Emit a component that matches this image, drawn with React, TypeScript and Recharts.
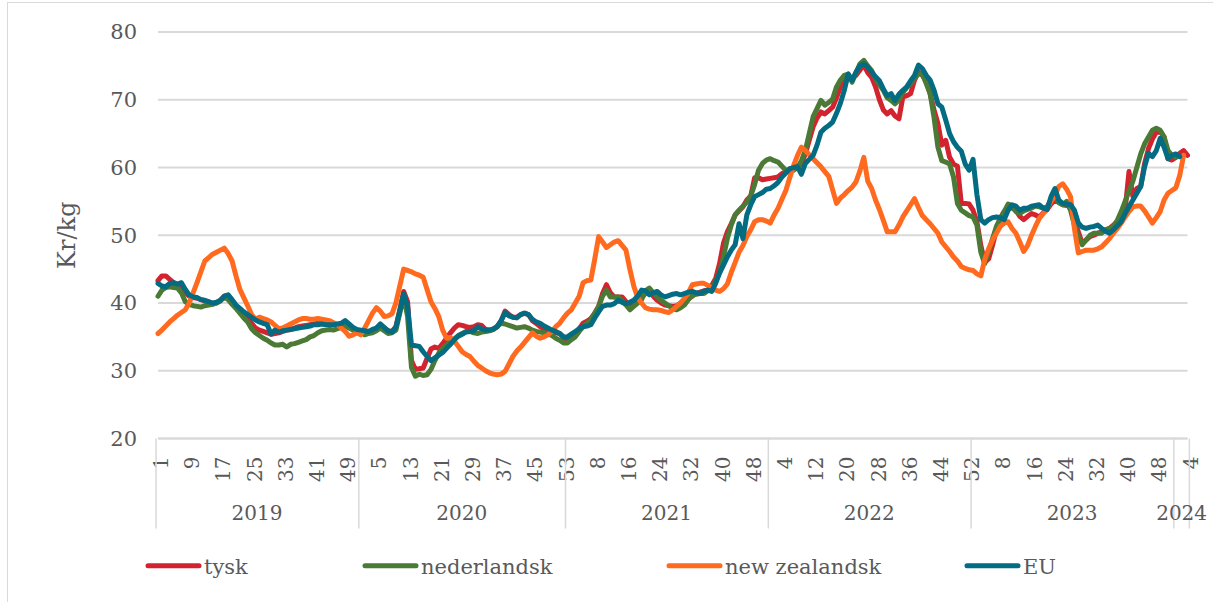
import { CartesianGrid, Line, LineChart, XAxis, YAxis } from 'recharts'

// week axis: 2019 w1 .. 2024 w4
const years = ['2019', '2020', '2021', '2022', '2023', '2024']
const weeksPerYear = [52, 53, 52, 52, 52, 4]
const yTicks = [20, 30, 40, 50, 60, 70, 80]

// Kr/kg, one value per week
const tysk = [
  // 2019
  43.3, 44.0, 44.0, 43.5, 43.0, 42.7, 42.5, 41.5, 41.0, 40.8, 40.7, 40.5, 40.3, 40.1, 39.9, 40.0, 40.4, 41.0, 41.1, 40.3,
  39.5, 39.0, 38.4, 37.8, 37.0, 36.3, 36.0, 35.8, 35.6, 35.4, 35.5, 35.6, 35.8, 36.0, 36.1, 36.3, 36.5, 36.6, 36.7, 36.8,
  36.9, 37.0, 37.0, 36.9, 36.8, 36.8, 36.8, 36.9, 37.2, 36.8, 36.3, 36.0,
  // 2020
  35.9, 35.8, 35.7, 36.0, 36.2, 36.7, 36.3, 35.9, 35.8, 36.5, 39.0, 41.7, 40.2, 31.5, 30.2, 30.3, 30.4, 31.8, 33.2, 33.5,
  33.3, 34.0, 34.8, 35.6, 36.3, 36.8, 36.7, 36.5, 36.4, 36.5, 36.8, 36.7, 36.1, 36.0, 36.1, 36.5, 37.4, 38.8, 38.3, 37.9,
  37.9, 38.3, 38.5, 38.3, 37.4, 37.0, 36.5, 36.2, 35.9, 35.8, 35.6, 35.5, 34.9,
  // 2021
  34.5, 35.0, 35.5, 36.2, 37.0, 37.3, 37.7, 38.5, 39.5, 41.4, 42.7, 41.5, 40.9, 40.9, 40.9, 40.2, 39.5, 39.8, 40.2, 40.8,
  41.4, 41.9, 41.0, 40.4, 40.0, 39.7, 39.6, 39.5, 39.6, 40.0, 40.4, 40.6, 41.0, 41.4, 41.6, 41.8, 41.9, 42.6, 43.6, 45.8,
  48.8, 50.5, 51.7, 53.0, 53.6, 54.2, 55.2, 55.8, 58.5, 58.5, 58.2, 58.3,
  // 2022
  58.4, 58.5, 58.6, 59.1, 59.4, 59.8, 60.0, 60.1, 60.5, 62.0, 64.0, 66.0, 67.3, 68.2, 67.9, 68.4, 68.9, 70.3, 71.9, 72.6,
  73.3, 73.2, 73.6, 74.4, 75.1, 74.0, 73.3, 71.9, 70.0, 68.5, 67.9, 68.4, 67.6, 67.2, 70.4, 70.6, 70.9, 72.9, 74.1, 73.6,
  72.8, 70.9, 68.5, 66.5, 63.3, 64.0, 61.5, 60.5, 60.2, 54.7, 54.7, 54.6,
  // 2023
  53.7, 52.0, 48.5, 46.0, 46.5, 48.5, 50.8, 52.5, 53.5, 54.2, 54.0, 53.7, 52.8, 52.3, 52.8, 53.2, 53.0, 52.7, 53.3, 53.8,
  54.6, 55.2, 54.9, 54.5, 54.4, 54.2, 52.3, 50.5, 48.8, 49.3, 49.8, 50.0, 50.3, 50.5, 50.8, 51.0, 51.5, 52.0, 53.0, 53.7,
  59.4, 55.7, 56.9, 57.2, 60.6, 62.8, 64.2, 65.2, 65.3, 64.5, 61.3, 61.1,
  // 2024
  61.5, 62.1, 62.5, 61.8,
]

const nederlandsk = [
  // 2019
  41.0, 41.9, 42.3, 42.4, 42.3, 42.2, 41.5, 40.2, 39.8, 39.6, 39.5, 39.4, 39.6, 39.7, 39.8, 40.0, 40.3, 40.9, 40.5, 39.8,
  39.2, 38.5, 37.8, 37.2, 36.2, 35.6, 35.2, 34.8, 34.5, 34.1, 33.8, 33.8, 33.9, 33.5, 33.9, 34.0, 34.2, 34.4, 34.6, 35.0,
  35.2, 35.6, 35.9, 36.0, 36.1, 36.0, 36.2, 36.4, 36.6, 36.3, 36.0, 35.6,
  // 2020
  35.8, 35.3, 35.5, 35.6, 35.9, 36.3, 35.9, 35.5, 35.6, 36.0, 38.5, 41.0, 38.0, 30.5, 29.2, 29.5, 29.3, 29.4, 30.2, 31.5,
  32.6, 33.3, 33.8, 34.3, 34.7, 35.2, 35.5, 35.8, 35.8, 35.6, 35.5, 35.7, 35.8, 35.9, 36.1, 36.6, 37.0, 36.9, 36.7, 36.5,
  36.3, 36.4, 36.5, 36.3, 36.0, 35.8, 35.7, 35.6, 35.5, 35.2, 34.8, 34.5, 34.1,
  // 2021
  34.1, 34.6, 35.0, 35.8, 36.5, 37.0, 37.5, 38.5, 39.5, 41.0, 41.9, 40.9, 40.9, 40.9, 40.3, 39.7, 39.0, 39.5, 40.0, 40.5,
  41.8, 42.2, 41.5, 40.9, 40.4, 40.0, 39.6, 39.2, 39.0, 39.3, 39.7, 40.5, 41.2, 41.3, 41.4, 41.4, 41.8, 42.2, 43.2, 44.5,
  46.8, 49.5, 51.5, 53.0, 53.7, 54.3, 54.9, 55.8, 57.5, 59.6, 60.6, 61.1,
  // 2022
  61.3, 61.0, 60.8, 60.2, 59.6, 59.4, 59.6, 60.0, 61.0, 62.5, 65.0, 67.5, 68.7, 69.9, 69.2, 69.6, 70.1, 71.9, 72.9, 73.6,
  73.8, 72.6, 74.0, 75.3, 75.8, 75.0, 74.3, 73.1, 72.2, 71.4, 70.3, 69.9, 69.4, 70.0, 71.1, 71.8, 72.4, 73.2, 73.8, 73.8,
  72.4, 70.9, 67.4, 63.0, 61.0, 60.8, 60.5, 58.6, 54.7, 53.7, 53.3, 52.9,
  // 2023
  52.7, 51.5, 47.5, 45.8, 47.5, 49.5, 51.3, 52.5, 53.5, 54.6, 54.3, 53.5, 53.2, 53.6, 53.8, 54.0, 54.3, 54.2, 54.0, 54.2,
  55.2, 55.9, 54.8, 54.5, 55.0, 53.7, 51.5, 49.8, 48.6, 49.3, 50.0, 50.3, 50.3, 50.3, 50.8, 51.0, 51.3, 52.2, 53.5, 55.0,
  56.5, 58.0, 60.0, 62.0, 63.5, 64.5, 65.5, 65.8, 65.5, 64.5, 62.5, 61.8,
  // 2024
  61.5, null, null, null,
]

const newZealandsk = [
  // 2019
  35.5, 36.0, 36.6, 37.2, 37.7, 38.2, 38.6, 39.0, 40.0, 41.5, 43.0, 44.6, 46.2, 46.7, 47.2, 47.5, 47.8, 48.1, 47.3, 46.2,
  44.0, 42.0, 40.8, 39.6, 38.3, 37.6, 37.9, 37.7, 37.5, 37.2, 36.7, 36.2, 36.3, 36.6, 36.9, 37.2, 37.5, 37.7, 37.7, 37.6,
  37.6, 37.7, 37.6, 37.5, 37.4, 37.1, 36.8, 36.3, 35.8, 35.1, 35.3, 35.6,
  // 2020
  35.3, 36.3, 37.4, 38.5, 39.3, 38.8, 38.0, 38.1, 38.4, 40.0, 42.5, 45.0, 44.8, 44.6, 44.3, 44.1, 43.8, 42.0, 40.2, 39.2,
  38.0, 36.0, 34.8, 34.9, 34.4, 33.6, 32.8, 32.4, 32.1, 31.4, 30.8, 30.4, 30.0, 29.7, 29.5, 29.4, 29.5, 29.9, 31.0, 32.1,
  32.9, 33.5, 34.2, 34.9, 35.6, 35.1, 34.8, 35.0, 35.3, 35.8, 36.5, 37.0, 37.8,
  // 2021
  38.5, 39.0, 40.0, 41.0, 43.0, 43.3, 43.4, 46.5, 49.8, 49.0, 48.2, 48.6, 49.0, 49.2, 48.5, 47.8, 45.0, 42.5, 40.8, 40.0,
  39.3, 39.1, 39.0, 39.0, 38.9, 38.7, 38.6, 39.0, 39.5, 40.0, 40.7, 41.5, 42.7, 42.8, 42.9, 42.9, 42.6, 42.2, 41.9, 41.7,
  42.1, 42.8, 44.5, 46.0, 47.5, 48.5, 49.8, 50.8, 52.0, 52.3, 52.3, 52.1,
  // 2022
  51.8, 53.0, 54.0, 55.3, 56.6, 58.5, 60.3, 61.8, 63.0, 62.5, 61.9, 61.3, 60.7, 60.1, 59.4, 58.7, 56.7, 54.7, 55.5, 56.0,
  56.6, 57.1, 57.9, 59.5, 61.5, 58.0, 56.9, 55.2, 53.8, 52.2, 50.5, 50.5, 50.5, 51.5, 52.7, 53.6, 54.5, 55.4, 54.1, 52.9,
  52.3, 51.7, 51.0, 50.3, 49.0, 48.3, 47.6, 46.8, 46.2, 45.4, 45.1, 44.9,
  // 2023
  44.8, 44.3, 44.0, 46.4, 48.0, 49.3, 50.3, 51.3, 51.8, 52.0, 51.0, 50.3, 49.0, 47.6, 48.5, 50.0, 51.3, 52.5, 53.2, 54.0,
  55.0, 55.9, 57.2, 57.6, 56.8, 55.7, 51.0, 47.4, 47.6, 47.8, 47.8, 47.8, 48.0, 48.3, 48.9, 49.5, 50.3, 51.0, 51.8, 52.7,
  53.5, 54.2, 54.3, 54.3, 53.6, 52.7, 51.8, 52.6, 53.5, 55.2, 56.2, 56.6,
  // 2024
  57.0, 58.8, 61.8, null,
]

const eu = [
  // 2019
  42.9, 42.5, 42.4, 42.9, 43.0, 42.8, 43.0, 42.0, 41.2, 40.9, 40.8, 40.5, 40.4, 40.2, 40.0, 40.1, 40.4, 41.0, 41.2, 40.5,
  39.7, 39.2, 38.7, 38.3, 37.9, 37.5, 37.2, 37.0, 36.8, 35.4, 36.0, 35.7, 35.9, 36.0, 36.1, 36.2, 36.3, 36.4, 36.5, 36.6,
  36.8, 36.8, 36.9, 36.8, 36.8, 36.8, 36.9, 37.0, 37.4, 36.9, 36.4, 36.1,
  // 2020
  36.0, 35.9, 35.8, 36.1, 36.3, 36.9, 36.4, 35.9, 35.7, 36.4, 38.8, 41.4, 39.5, 33.8, 33.7, 33.6, 32.8, 32.1, 31.5, 31.9,
  32.3, 32.7, 33.3, 33.9, 34.6, 35.1, 35.4, 35.7, 35.8, 35.9, 36.5, 36.2, 36.0, 36.0, 36.2, 36.5, 37.4, 38.6, 38.1, 37.9,
  37.8, 38.3, 38.5, 38.3, 37.6, 37.2, 37.0, 36.6, 36.3, 36.0, 35.8, 35.5, 35.0,
  // 2021
  35.0, 35.4, 35.8, 36.2, 36.5, 36.6, 36.8, 37.8, 38.7, 39.5, 39.7, 39.7, 39.9, 40.4, 40.1, 39.9, 40.1, 40.4, 41.0, 41.9,
  41.8, 41.2, 41.5, 41.7, 41.2, 40.9, 41.1, 41.3, 41.4, 41.2, 41.4, 41.6, 41.7, 41.5, 41.4, 41.7, 41.9, 41.7, 42.9, 44.4,
  45.6, 46.8, 47.8, 48.6, 51.7, 49.5, 53.0, 54.5, 55.7, 56.0, 56.3, 56.8,
  // 2022
  56.9, 57.3, 57.8, 58.6, 59.2, 59.8, 60.0, 60.1, 59.0, 60.6, 61.2, 61.8, 63.3, 65.2, 65.8, 66.2, 66.7, 68.0, 69.5, 71.4,
  73.8, 72.9, 74.1, 75.0, 75.3, 74.8, 74.1, 73.4, 72.8, 71.6, 70.6, 70.9, 69.9, 70.8, 71.4, 71.9, 72.8, 73.6, 75.1, 74.6,
  73.6, 72.9, 71.4, 69.4, 68.9, 67.0, 65.0, 63.8, 63.0, 62.4, 60.5, 59.6,
  // 2023
  61.2, 56.0, 52.3, 51.8, 52.3, 52.6, 52.7, 52.6, 52.3, 53.7, 54.5, 54.3, 53.7, 54.0, 54.0, 54.3, 54.4, 54.5, 54.0, 53.8,
  55.7, 56.9, 55.2, 54.7, 54.6, 54.5, 53.7, 51.8, 51.2, 51.0, 51.2, 51.3, 51.5, 51.0, 50.6, 50.3, 50.8, 51.4, 52.0, 53.2,
  54.2, 55.2, 56.2, 57.2, 60.1, 62.1, 61.6, 62.5, 64.3, 63.0, 61.3, 61.8,
  // 2024
  62.0, 61.6, null, null,
]

const series = [
  { key: 'tysk', name: 'tysk', color: '#d3232e', values: tysk },
  { key: 'nederlandsk', name: 'nederlandsk', color: '#4a7a35', values: nederlandsk },
  { key: 'newZealandsk', name: 'new zealandsk', color: '#ff6a1f', values: newZealandsk },
  { key: 'eu', name: 'EU', color: '#036b82', values: eu },
]

const periods = years.flatMap((year, i) =>
  Array.from({ length: weeksPerYear[i] }, (_, w) => ({ year, week: w + 1 })),
)
const data = periods.map((p, i) => {
  const row: Record<string, string | number | null> = { period: `${p.year}-${p.week}` }
  series.forEach((s) => {
    row[s.key] = s.values[i]
  })
  return row
})
const yearStarts = years.map((y) => `${y}-1`)

// layout
const WIDTH = 1213
const HEIGHT = 602
const MARGIN = { top: 32, right: 25.5, bottom: 73.5, left: 0 }
const Y_AXIS_WIDTH = 158
const WEEK_AXIS_H = 60
const YEAR_AXIS_H = 30
const PLOT_BOTTOM = HEIGHT - MARGIN.bottom - WEEK_AXIS_H - YEAR_AXIS_H
const BAND = (WIDTH - MARGIN.right - MARGIN.left - Y_AXIS_WIDTH) / periods.length
const FONT = 'DejaVu Serif'
const TEXT = '#595959'
const GRID = '#d9d9d9'
const legendX = [146, 363, 667, 965]

function WeekTick({ x, y, payload }: any) {
  const week = String(payload.value).split('-')[1]
  const tx = x + 3
  const ty = y + 10
  return (
    <text x={tx} y={ty} transform={`rotate(-90, ${tx}, ${ty})`} textAnchor="end" dominantBaseline="central" fill={TEXT} fontSize={20} fontFamily={FONT}>
      {week}
    </text>
  )
}

function YearTick({ x, index }: any) {
  const start = x - BAND / 2
  const end = start + weeksPerYear[index] * BAND
  const isLast = index === years.length - 1
  return (
    <g>
      <line x1={start} x2={start} y1={PLOT_BOTTOM} y2={PLOT_BOTTOM + 90} stroke={GRID} strokeWidth={1.5} />
      {isLast && <line x1={end} x2={end} y1={PLOT_BOTTOM} y2={PLOT_BOTTOM + 90} stroke={GRID} strokeWidth={1.5} />}
      <text x={(start + end) / 2} y={PLOT_BOTTOM + 81.5} textAnchor="middle" fill={TEXT} fontSize={20} fontFamily={FONT}>
        {years[index]}
      </text>
    </g>
  )
}

function ChartLegend() {
  return (
    <svg width={WIDTH} height={40} style={{ position: 'absolute', left: 0, top: 548, display: 'block' }}>
      {series.map((s, i) => (
        <g key={s.key}>
          <line x1={legendX[i] + 2} x2={legendX[i] + 53} y1={17.7} y2={17.7} stroke={s.color} strokeWidth={5} strokeLinecap="round" />
          <text x={legendX[i] + 58} y={26} fill={TEXT} fontSize={21} fontFamily={FONT}>
            {s.name}
          </text>
        </g>
      ))}
    </svg>
  )
}

export default function App() {
  return (
    <div style={{ position: 'absolute', left: 0, top: 0, width: WIDTH, height: HEIGHT, overflow: 'hidden', background: '#fff' }}>
      <div style={{ position: 'absolute', left: 7, top: 2, width: 1400, height: 800, border: `1px solid ${GRID}` }} />
      <div style={{ position: 'absolute', left: 0, top: 0 }}>
        <LineChart width={WIDTH} height={HEIGHT} data={data} margin={MARGIN} style={{ fontFamily: FONT }}>
          <CartesianGrid vertical={false} stroke={GRID} strokeWidth={1.8} />
          <XAxis dataKey="period" interval={7} tickLine={false} axisLine={{ stroke: GRID, strokeWidth: 1.8 }} height={WEEK_AXIS_H} tick={(p: any) => <WeekTick {...p} />} />
          <XAxis xAxisId="year" dataKey="period" ticks={yearStarts} interval={0} tickLine={false} axisLine={false} height={YEAR_AXIS_H} tick={(p: any) => <YearTick {...p} />} />
          <YAxis
            domain={[20, 80]}
            ticks={yTicks}
            width={Y_AXIS_WIDTH}
            axisLine={false}
            tickLine={false}
            tickMargin={15}
            tick={{ fill: TEXT, fontSize: 21, fontFamily: FONT }}
            label={{ value: 'Kr/kg', angle: -90, position: 'insideLeft', offset: 66, fill: TEXT, fontSize: 24, fontFamily: FONT, style: { textAnchor: 'middle' } }}
          />
          {series.map((s) => (
            <Line
              key={s.key}
              type="linear"
              dataKey={s.key}
              name={s.name}
              stroke={s.color}
              strokeWidth={5}
              strokeLinejoin="round"
              strokeLinecap="round"
              dot={false}
              activeDot={false}
              isAnimationActive={false}
            />
          ))}
        </LineChart>
      </div>
      <ChartLegend />
    </div>
  )
}
